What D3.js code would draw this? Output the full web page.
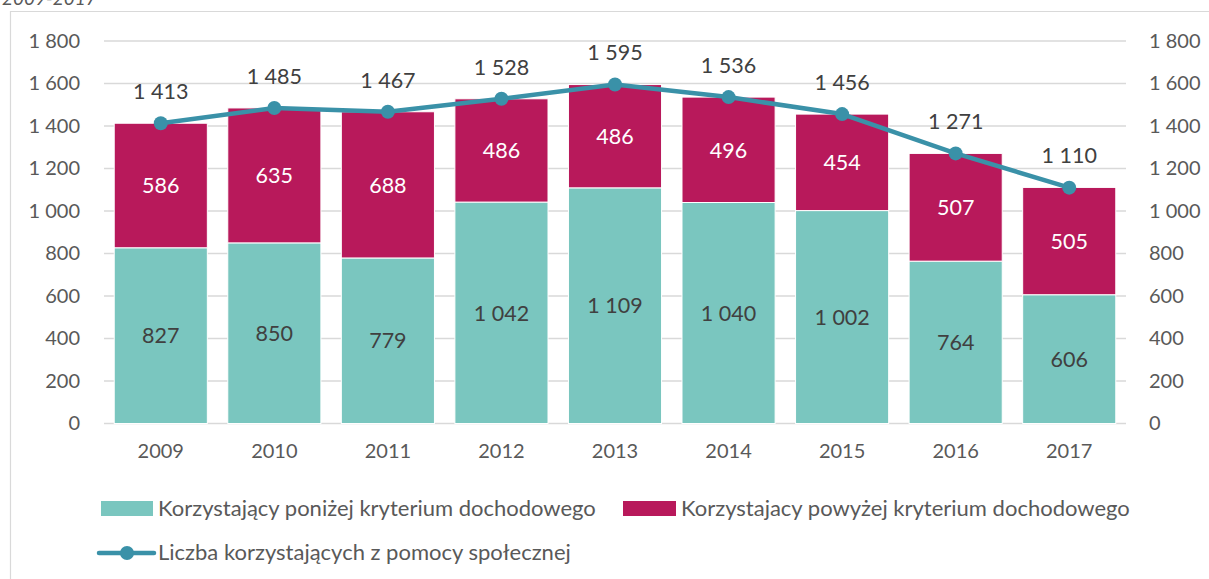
<!DOCTYPE html>
<html><head><meta charset="utf-8">
<script src="https://cdn.jsdelivr.net/npm/d3@7"></script>
<style>body{margin:0;background:#fff}svg{display:block}text{font-family:Lato,"Open Sans",sans-serif}</style>
</head><body><svg id="c" width="1209" height="579"></svg>
<script>
const years = ["2009","2010","2011","2012","2013","2014","2015","2016","2017"];
const below = [827,850,779,1042,1109,1040,1002,764,606];
const above = [586,635,688,486,486,496,454,507,505];
const totals = [1413,1485,1467,1528,1595,1536,1456,1271,1110];
const yTicks = [0,200,400,600,800,1000,1200,1400,1600,1800];
const seriesNames = ["Korzystający poniżej kryterium dochodowego","Korzystajacy powyżej kryterium dochodowego","Liczba korzystających z pomocy społecznej"];
const title = "2009-2017";

const fmt = v => d3.format(",")(v).replace(/,/g," ");
const cTeal="#7ac6bf", cMag="#b8195b", cLine="#3a91a8", cGrid="#d9d9d9", cText="#595959";
const svg = d3.select("#c");

// frame
svg.append("path").attr("d","M10.5,579 V11.5 H1209").attr("fill","none").attr("stroke",cGrid).attr("stroke-width",1.2);
svg.append("text").attr("x",2).attr("y",5).attr("font-style","italic").attr("font-size",19).attr("fill",cText).text(title);

const x = d3.scaleBand().domain(years).range([104,1126]).paddingInner(0.18).paddingOuter(0.09);
const y = d3.scaleLinear().domain([0,1800]).range([423.5,41]);

// grid
svg.append("g").selectAll("line").data(yTicks).join("line")
  .attr("x1",104).attr("x2",1126).attr("y1",d=>y(d)).attr("y2",d=>y(d))
  .attr("stroke",cGrid).attr("stroke-width",1.3);

// axes
const yl = d3.axisLeft(y).tickValues(yTicks).tickFormat(fmt).tickSize(0).tickPadding(24);
const yr = d3.axisRight(y).tickValues(yTicks).tickFormat(fmt).tickSize(0).tickPadding(23);
const gl = svg.append("g").attr("transform","translate(104,0)").call(yl);
const gr = svg.append("g").attr("transform","translate(1126,0)").call(yr);
const xa = d3.axisBottom(x).tickSize(0).tickPadding(20);
const gx = svg.append("g").attr("transform","translate(0,423.5)").call(xa);
[gl,gr,gx].forEach(g=>{g.select(".domain").remove();g.selectAll("text").attr("font-size",20).attr("fill",cText).attr("font-family","Lato");});

// bars
const idx = d3.range(years.length);
svg.append("g").selectAll("rect").data(idx).join("rect")
  .attr("x",i=>x(years[i])).attr("width",x.bandwidth())
  .attr("y",i=>y(below[i])).attr("height",i=>y(0)-y(below[i]))
  .attr("fill",cTeal).attr("stroke","#fff").attr("stroke-width",1);
svg.append("g").selectAll("rect").data(idx).join("rect")
  .attr("x",i=>x(years[i])).attr("width",x.bandwidth())
  .attr("y",i=>y(below[i]+above[i])).attr("height",i=>y(below[i])-y(below[i]+above[i]))
  .attr("fill",cMag).attr("stroke","#fff").attr("stroke-width",1);

const cx = i=>x(years[i])+x.bandwidth()/2;
svg.append("g").selectAll("text").data(idx).join("text")
  .attr("x",cx).attr("y",i=>(y(0)+y(below[i]))/2).attr("dy","0.36em")
  .attr("text-anchor","middle").attr("font-size",21.5).attr("fill","#404040").text(i=>fmt(below[i]));
svg.append("g").selectAll("text").data(idx).join("text")
  .attr("x",cx).attr("y",i=>(y(below[i])+y(below[i]+above[i]))/2).attr("dy","0.36em")
  .attr("text-anchor","middle").attr("font-size",21.5).attr("fill","#fff").text(i=>fmt(above[i]));

// line
svg.append("path").datum(idx).attr("fill","none").attr("stroke",cLine).attr("stroke-width",4.5)
  .attr("stroke-linejoin","round").attr("d",d3.line().x(cx).y(i=>y(totals[i])));
svg.append("g").selectAll("circle").data(idx).join("circle")
  .attr("cx",cx).attr("cy",i=>y(totals[i])).attr("r",7).attr("fill",cLine);
svg.append("g").selectAll("text").data(idx).join("text")
  .attr("x",cx).attr("y",i=>y(totals[i])-32).attr("dy","0.36em")
  .attr("text-anchor","middle").attr("font-size",21.5).attr("fill","#404040").text(i=>fmt(totals[i]));

// legend
const lg = svg.append("g");
lg.append("rect").attr("x",101).attr("y",501).attr("width",52).attr("height",15).attr("fill",cTeal);
lg.append("text").attr("x",158).attr("y",508.5).attr("dy","0.36em").attr("font-size",22).attr("fill",cText).text(seriesNames[0]);
lg.append("rect").attr("x",623).attr("y",501).attr("width",53).attr("height",15).attr("fill",cMag);
lg.append("text").attr("x",681).attr("y",508.5).attr("dy","0.36em").attr("font-size",22).attr("fill",cText).text(seriesNames[1]);
lg.append("line").attr("x1",99).attr("x2",154).attr("y1",553).attr("y2",553).attr("stroke",cLine).attr("stroke-width",4.5).attr("stroke-linecap","round");
lg.append("circle").attr("cx",127).attr("cy",553).attr("r",7).attr("fill",cLine);
lg.append("text").attr("x",158).attr("y",552).attr("dy","0.36em").attr("font-size",22).attr("fill",cText).text(seriesNames[2]);
</script></body></html>
